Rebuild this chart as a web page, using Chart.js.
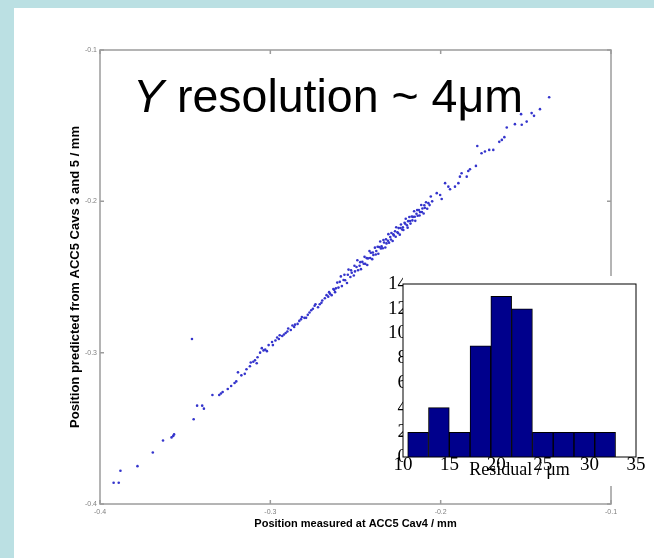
<!DOCTYPE html>
<html><head><meta charset="utf-8">
<script src="https://cdn.jsdelivr.net/npm/chart.js@4.4.0/dist/chart.umd.min.js"></script>
<style>
html,body{margin:0;padding:0;}
body{width:654px;height:558px;background:#bbe0e3;position:relative;overflow:hidden;}
#panel{position:absolute;left:14px;top:8px;width:640px;height:550px;background:#fff;}
#main{position:absolute;left:0;top:0;}
#note{position:absolute;left:133px;top:73px;font-family:"Liberation Sans",Arial,sans-serif;font-size:46.5px;line-height:1;color:#000;white-space:nowrap;}
#insetWrap{position:absolute;left:372px;top:276px;width:282px;height:210px;background:#fff;}
#inset{position:absolute;left:0;top:0;}
</style></head>
<body>
<div id="panel"></div>
<canvas id="main" width="654" height="558"></canvas>
<div id="note"><i>Y</i> resolution ~ 4μm</div>
<div id="insetWrap"><canvas id="inset" width="282" height="210"></canvas></div>
<script>
// ---- data ----
const xTicks=[-0.4,-0.3,-0.2,-0.1];
const yTicks=[-0.4,-0.3,-0.2,-0.1];
const histCenters=[11.62,13.85,16.08,18.31,20.54,22.77,25.00,27.23,29.46,31.69];
const histCounts=[2,4,2,9,13,12,2,2,2,2];
const histXTicks=[10,15,20,25,30,35];
const histYTicks=[0,2,4,6,8,10,12,14];
const scatterPoints=[
[-0.392,-0.386],[-0.389,-0.386],[-0.388,-0.378],[-0.378,-0.375],[-0.369,-0.366],[-0.363,-0.358],[-0.358,-0.356],[-0.357,-0.355],[-0.3565,-0.354],[-0.345,-0.344],[-0.343,-0.335],[-0.340,-0.335],[-0.339,-0.337],[-0.346,-0.291],[-0.334,-0.328],[-0.330,-0.328],[-0.329,-0.327],[-0.328,-0.326],[-0.325,-0.324],[-0.323,-0.322],[-0.321,-0.320],[-0.320,-0.319],
[-0.319,-0.313],[-0.317,-0.315],[-0.315,-0.314],[-0.314,-0.311],[-0.312,-0.309],[-0.310,-0.306],[-0.309,-0.305],[-0.308,-0.307],[-0.306,-0.300],[-0.305,-0.297],[-0.303,-0.298],[-0.302,-0.299],[-0.301,-0.295],[-0.299,-0.293],[-0.297,-0.292],[-0.296,-0.290],[-0.295,-0.291],[-0.293,-0.289],[-0.292,-0.288],[-0.291,-0.287],[-0.290,-0.286],[-0.288,-0.285],[-0.287,-0.282],[-0.286,-0.283],[-0.284,-0.281],[-0.283,-0.279],[-0.282,-0.278],[-0.280,-0.277],[-0.279,-0.277],[-0.278,-0.275],[-0.276,-0.272],[-0.275,-0.271],[-0.274,-0.269],[-0.272,-0.270],[-0.271,-0.268],[-0.270,-0.267],[-0.268,-0.264],[-0.267,-0.262],[-0.266,-0.263],[-0.265,-0.261],[-0.264,-0.262],[-0.263,-0.258],[-0.262,-0.260],
[-0.3115,-0.3065],[-0.3075,-0.3030],[-0.3040,-0.2985],[-0.2985,-0.2950],[-0.2945,-0.2885],[-0.2895,-0.2840],[-0.2855,-0.2815],[-0.2815,-0.2765],[-0.2770,-0.2735],[-0.2735,-0.2680],[-0.2695,-0.2655],[-0.2655,-0.2600],[-0.2625,-0.2585],
[-0.2615,-0.2575],[-0.2607,-0.2537],[-0.2600,-0.2570],[-0.2592,-0.2532],[-0.2586,-0.2496],[-0.2580,-0.2560],[-0.2570,-0.2520],[-0.2565,-0.2485],[-0.2561,-0.2521],[-0.2550,-0.2540],[-0.2545,-0.2485],[-0.2541,-0.2451],[-0.2530,-0.2500],[-0.2526,-0.2456],[-0.2522,-0.2472],[-0.2510,-0.2490],[-0.2506,-0.2426],[-0.2503,-0.2463],[-0.2494,-0.2434],[-0.2489,-0.2389],[-0.2485,-0.2455],[-0.2476,-0.2426],[-0.2472,-0.2402],[-0.2468,-0.2448],[-0.2460,-0.2400],[-0.2452,-0.2412],[-0.2447,-0.2367],[-0.2443,-0.2413],[-0.2435,-0.2375],[-0.2431,-0.2421],[-0.2427,-0.2377],[-0.2418,-0.2328],[-0.2414,-0.2374],[-0.2410,-0.2340],[-0.2402,-0.2382],[-0.2398,-0.2338],[-0.2395,-0.2355],[-0.2386,-0.2306],[-0.2381,-0.2351],[-0.2378,-0.2328],[-0.2370,-0.2300],[-0.2366,-0.2346],[-0.2362,-0.2302],[-0.2355,-0.2265],[-0.2351,-0.2311],[-0.2347,-0.2297],[-0.2340,-0.2310],[-0.2336,-0.2256],[-0.2332,-0.2272],[-0.2325,-0.2305],[-0.2321,-0.2251],[-0.2318,-0.2278],[-0.2310,-0.2260],[-0.2307,-0.2217],[-0.2303,-0.2273],[-0.2296,-0.2236],[-0.2292,-0.2252],[-0.2289,-0.2209],[-0.2282,-0.2262],[-0.2278,-0.2218],[-0.2275,-0.2225],[-0.2268,-0.2198],[-0.2264,-0.2234],[-0.2261,-0.2171],[-0.2254,-0.2204],[-0.2250,-0.2210],[-0.2247,-0.2177],[-0.2240,-0.2220],[-0.2236,-0.2176],[-0.2233,-0.2153],[-0.2226,-0.2186],[-0.2222,-0.2172],[-0.2219,-0.2189],[-0.2212,-0.2142],[-0.2208,-0.2148],[-0.2205,-0.2115],[-0.2198,-0.2158],[-0.2194,-0.2174],[-0.2191,-0.2131],[-0.2184,-0.2104],[-0.2180,-0.2130],[-0.2177,-0.2147],[-0.2170,-0.2100],[-0.2166,-0.2126],[-0.2163,-0.2103],[-0.2156,-0.2066],[-0.2152,-0.2102],[-0.2149,-0.2129],[-0.2142,-0.2082],[-0.2138,-0.2058],[-0.2135,-0.2095],[-0.2128,-0.2058],[-0.2124,-0.2094],[-0.2121,-0.2071],[-0.2114,-0.2024],[-0.2110,-0.2070],[-0.2107,-0.2047],[-0.2100,-0.2080],[-0.2096,-0.2026],[-0.2093,-0.2043],[-0.2086,-0.2006],[-0.2079,-0.2049],[-0.2072,-0.2012],[-0.2065,-0.2025],[-0.2058,-0.1968],[-0.2050,-0.2000],
[-0.2023,-0.1946],[-0.2003,-0.1958],[-0.1994,-0.1985],[-0.1974,-0.1880],[-0.1955,-0.1903],[-0.1945,-0.1920],[-0.1916,-0.1903],[-0.1896,-0.1880],[-0.1887,-0.1837],[-0.1877,-0.1814],[-0.1847,-0.1837],[-0.1838,-0.1800],[-0.1828,-0.1788],[-0.1793,-0.1766],[-0.1785,-0.1634],[-0.1760,-0.1682],[-0.1740,-0.1671],[-0.1715,-0.1660],[-0.1691,-0.1660],[-0.1656,-0.1607],[-0.1641,-0.1594],[-0.1626,-0.1576],[-0.1612,-0.1512],[-0.1564,-0.1490],[-0.1528,-0.1424],[-0.1524,-0.1494],[-0.1495,-0.1473],[-0.1466,-0.1417],[-0.1452,-0.1435],[-0.1417,-0.1391],[-0.1363,-0.1312]
];

// ---- plugin: box frame with inward ticks ----
const framePlugin={id:'frame',afterDatasetsDraw(chart,args,o){
  const {ctx,chartArea:a,scales:{x,y}}=chart;
  ctx.save();ctx.strokeStyle=o.color;ctx.lineWidth=o.width;
  ctx.strokeRect(a.left,a.top,a.right-a.left,a.bottom-a.top);
  if(o.tick){
    ctx.beginPath();
    x.ticks.forEach(t=>{const p=x.getPixelForValue(t.value);ctx.moveTo(p,a.bottom);ctx.lineTo(p,a.bottom-o.tick);ctx.moveTo(p,a.top);ctx.lineTo(p,a.top+o.tick);});
    y.ticks.forEach(t=>{const p=y.getPixelForValue(t.value);ctx.moveTo(a.left,p);ctx.lineTo(a.left+o.tick,p);ctx.moveTo(a.right,p);ctx.lineTo(a.right-o.tick,p);});
    ctx.stroke();
  }
  ctx.restore();
}};

const fmt1=v=>Number(v).toFixed(1);
new Chart(document.getElementById('main'),{
  type:'scatter',
  data:{datasets:[{data:scatterPoints.map(p=>({x:p[0],y:p[1]})),pointRadius:1.3,pointBackgroundColor:'#3434cc',pointBorderWidth:0}]},
  options:{responsive:false,animation:false,events:[],
    layout:{padding:{left:0,top:50,right:43,bottom:0}},
    plugins:{legend:{display:false},tooltip:{enabled:false},frame:{color:'#9c9c9c',width:1.5,tick:4}},
    scales:{
      x:{type:'linear',min:-0.4,max:-0.1,
        afterBuildTicks:s=>{s.ticks=xTicks.map(v=>({value:v}));},
        afterFit:s=>{s.height=54;},
        grid:{display:false,drawTicks:false},border:{display:false},
        ticks:{font:{family:'Liberation Sans',size:7},color:'#808080',padding:4,callback:fmt1,maxRotation:0},
        title:{display:true,text:'Position measured at ACC5 Cav4 / mm',color:'#000',font:{family:'Liberation Sans',size:11,weight:'bold'},padding:{top:0,bottom:27}}},
      y:{type:'linear',min:-0.4,max:-0.1,
        afterBuildTicks:s=>{s.ticks=yTicks.map(v=>({value:v}));},
        afterFit:s=>{s.width=100;},
        grid:{display:false,drawTicks:false},border:{display:false},
        ticks:{font:{family:'Liberation Sans',size:7},color:'#808080',padding:3,callback:fmt1},
        title:{display:true,text:'Position predicted from ACC5 Cavs 3 and 5 / mm',color:'#000',font:{family:'Liberation Sans',size:13,weight:'bold'},padding:{top:68,bottom:0}}}
    }},
  plugins:[framePlugin]
});

new Chart(document.getElementById('inset'),{
  type:'bar',
  data:{datasets:[{data:histCenters.map((c,i)=>({x:c,y:histCounts[i]})),backgroundColor:'#00008c',borderColor:'#000',borderWidth:1,barPercentage:1,categoryPercentage:1,grouped:false}]},
  options:{responsive:false,animation:false,events:[],
    layout:{padding:{left:0,top:8,right:18,bottom:0}},
    plugins:{legend:{display:false},tooltip:{enabled:false},frame:{color:'#000',width:1,tick:0}},
    scales:{
      x:{type:'linear',min:10,max:35,offset:false,
        afterBuildTicks:s=>{s.ticks=histXTicks.map(v=>({value:v}));},
        afterFit:s=>{s.height=29;},
        grid:{display:false,drawTicks:false},border:{display:false},
        ticks:{font:{family:'Liberation Serif',size:19},color:'#000',padding:-3,maxRotation:0,autoSkip:false},
        title:{display:true,text:'Residual / μm',color:'#000',font:{family:'Liberation Serif',size:18},padding:{top:0,bottom:5}}},
      y:{type:'linear',min:0,max:14,
        afterBuildTicks:s=>{s.ticks=histYTicks.map(v=>({value:v}));},
        afterFit:s=>{s.width=31;},
        grid:{display:false,drawTicks:false},border:{display:false},
        ticks:{font:{family:'Liberation Serif',size:19},color:'#000',padding:-4,autoSkip:false}}
    }},
  plugins:[framePlugin]
});
</script>
</body></html>
